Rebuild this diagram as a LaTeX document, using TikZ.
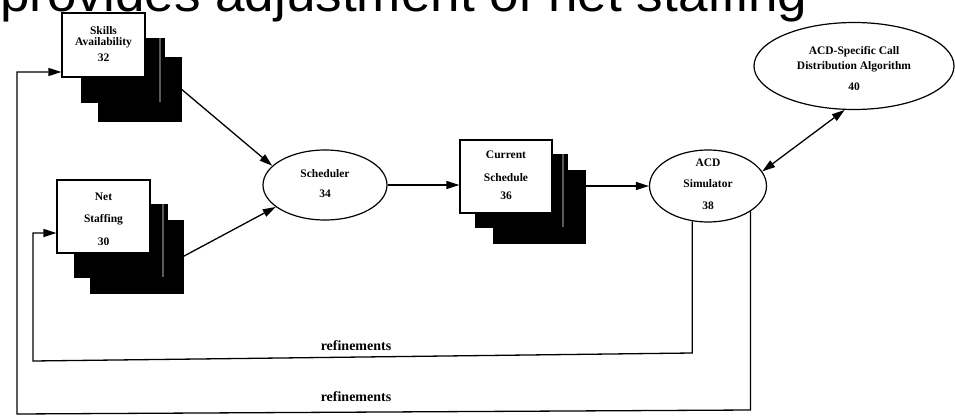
\documentclass[tikz,border=0pt]{standalone}
\usepackage{fontspec}
\setmainfont{Liberation Serif}
\newfontfamily\capfont{Liberation Sans}
\usetikzlibrary{shapes.geometric,arrows.meta,calc}
\begin{document}
\begin{tikzpicture}[x=1pt,y=-1pt,
  lbl/.style={font=\bfseries\fontsize{11.5}{13}\selectfont, align=center},
  docbox/.style={lbl, draw=black, line width=1.2pt, fill=white, rectangle, inner sep=-20pt},
  sheet/.style={draw=black, fill=black, rectangle, inner sep=0pt},
  oval/.style={lbl, draw=black, ellipse, line width=1.2pt, fill=white, inner sep=-20pt},
  tip/.tip={Triangle[length=13pt,width=8pt]},
  conn/.style={line width=1.3pt, -tip},
  biconn/.style={line width=1.3pt, tip-tip},
  reflabel/.style={font=\bfseries\fontsize{14}{16}\selectfont, inner sep=0pt},
  texture/.style={black!65, line width=1.5pt}
]
\useasboundingbox (0,0) rectangle (955,417);
\clip (0,0) rectangle (955,417);

% caption, cut off at the top
\node[anchor=base west, font=\capfont\fontsize{51}{60}\selectfont, inner sep=0pt] (cap) at (0,12) {\scalebox{1.04}[1]{provides adjustment of net staffing}};

% Skills Availability stack
\node[sheet, minimum width=83pt, minimum height=64pt] (skills3) at (139.5,89) {};
\node[sheet, minimum width=83pt, minimum height=64pt] (skills2) at (122.5,70) {};
\draw[texture] ([xshift=-4pt]skills2.north east) -- ([xshift=-4pt]skills2.south east);
\node[docbox, minimum width=83pt, minimum height=64pt] (skills) at (103.5,45)
  {Skills\\[-2pt]Availability\\[3pt]32\rule[-2pt]{0pt}{2pt}};

% Net Staffing stack
\node[sheet, minimum width=93pt, minimum height=73pt] (net3) at (136.5,256.5) {};
\node[sheet, minimum width=93pt, minimum height=73pt] (net2) at (120.5,240.5) {};
\draw[texture] ([xshift=-4pt]net2.north east) -- ([xshift=-4pt]net2.south east);
\node[docbox, minimum width=93pt, minimum height=73pt] (net) at (103.5,216.5)
  {\rule{0pt}{13pt}Net\\[9pt]Staffing\\[10pt]30};

% Current Schedule stack
\node[sheet, minimum width=92pt, minimum height=73pt] (cur3) at (539,206.5) {};
\node[sheet, minimum width=92pt, minimum height=73pt] (cur2) at (521,190.5) {};
\draw[texture] ([xshift=-4pt]cur2.north east) -- ([xshift=-4pt]cur2.south east);
\node[docbox, minimum width=92pt, minimum height=73pt] (cur) at (506,176.5)
  {Current\\[10pt]Schedule\\[5pt]36\rule[-2pt]{0pt}{2pt}};

% ellipses
\node[oval, minimum width=124pt, minimum height=70pt] (sched) at (325,185)
  {Scheduler\\[7pt]34\rule[-2pt]{0pt}{2pt}};
\node[oval, minimum width=117pt, minimum height=72pt] (sim) at (708,186)
  {ACD\\[8pt]Simulator\\[9pt]38\rule[-3pt]{0pt}{3pt}};
\node[oval, minimum width=200pt, minimum height=87pt] (alg) at (854,66)
  {\rule{0pt}{13pt}ACD-Specific Call\\[2pt]Distribution Algorithm\\[8pt]40};

% connectors
\draw[conn] (skills3.east) -- (sched.160);
\draw[conn] (net3.east) -- (sched.204);
\draw[conn] (sched.east) -- (sched.east -| cur.west);
\draw[conn] (sim.west -| cur3.east) -- (sim.west);
\draw[biconn] (sim.15) -- (alg.258);

% refinement loops
\coordinate (i1) at (693,353);
\coordinate (i2) at (33,361);
\coordinate (i3) at (33,233);
\draw[conn] (sim.246.7) -- (sim.246.7 |- i1) -- (i2) -- (i3) -- (net.west |- i3);
\coordinate (o1) at (750,410);
\coordinate (o2) at (17,414);
\coordinate (o3) at (17,72);
\draw[conn] (sim.329.4) -- (sim.329.4 |- o1) -- (o2) -- (o3) -- (skills.west |- o3);

\node[reflabel] (r1) at (356,346) {refinements};
\node[reflabel] (r2) at (356,397) {refinements};
\end{tikzpicture}
\end{document}
